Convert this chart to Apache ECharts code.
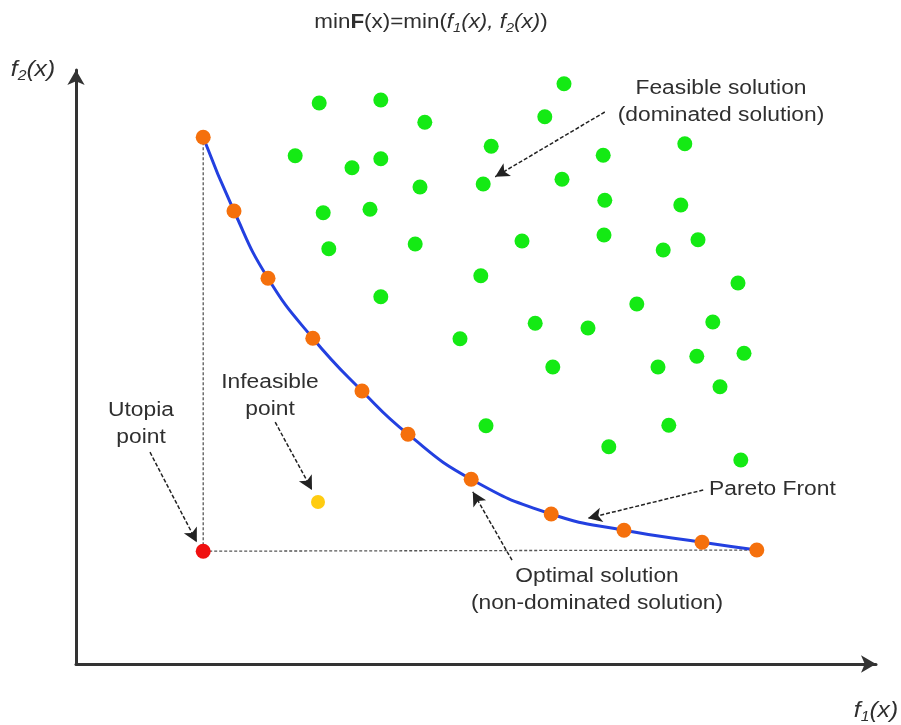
<!DOCTYPE html>
<html>
<head>
<meta charset="utf-8">
<script src="https://cdn.jsdelivr.net/npm/echarts@6/dist/echarts.min.js"></script>
<style>html,body{margin:0;padding:0;background:#fff}#c{width:901px;height:725px}</style>
</head>
<body>
<div id="c"></div>
<script>
// Pareto front (optimal, non-dominated solutions): f1, f2
const paretoF1 = [15.9, 19.75, 24.0, 29.6, 35.75, 41.5, 49.4, 59.4, 68.5, 78.25, 85.1];
const paretoF2 = [87.8, 75.5, 64.3, 54.3, 45.5, 38.3, 30.8, 25.0, 22.3, 20.3, 19.0];
// Feasible (dominated) solutions
const feasibleF1 = [30.4, 38.1, 43.6, 27.4, 34.5, 38.1, 51.9, 58.6, 61.0, 65.9, 76.1, 43.0, 50.9, 60.75, 30.9, 36.75, 66.1, 75.6, 31.6, 42.4, 55.75, 66.0, 73.4, 77.75, 38.1, 50.6, 82.75, 70.1, 57.4, 64.0, 79.6, 48.0, 59.6, 72.75, 77.6, 83.5, 80.5, 51.25, 66.6, 74.1, 83.1];
const feasibleF2 = [93.5, 94.0, 90.3, 84.7, 82.7, 84.2, 86.3, 91.2, 96.7, 84.8, 86.7, 79.5, 80.0, 80.8, 75.2, 75.8, 77.3, 76.5, 69.2, 70.0, 70.5, 71.5, 69.0, 70.7, 61.2, 64.7, 63.5, 60.0, 56.8, 56.0, 57.0, 54.2, 49.5, 49.5, 51.3, 51.8, 46.2, 39.7, 36.2, 39.8, 34.0];
// Special points
const utopiaPoint = [15.9, 18.8];
const infeasiblePoint = [30.25, 27.0];
// Annotation arrows: [fromF1, fromF2, toF1, toF2]
const arrowFeasible = [66.1, 92.0, 52.4, 81.2];
const arrowUtopia = [9.25, 35.3, 15.1, 20.3];
const arrowInfeasible = [24.9, 40.3, 29.5, 29.0];
const arrowOptimal = [54.5, 17.3, 49.6, 28.7];
const arrowPareto = [78.4, 29.0, 64.0, 24.3];
// Texts
const titleText = '{n|min}{b|F}{n|(x)=min(}{i|f}{s|1}{i|(x), f}{s|2}{i|(x)}{n|)}';
const yName = '{i|f}{s|2}{i|(x)}';
const xName = '{i|f}{s|1}{i|(x)}';
const labelFeasible = 'Feasible solution\n(dominated solution)';
const labelUtopia = 'Utopia\npoint';
const labelInfeasible = 'Infeasible\npoint';
const labelOptimal = 'Optimal solution\n(non-dominated solution)';
const labelPareto = 'Pareto Front';

const FONT = '"Liberation Sans", Arial, sans-serif';
const TXT = '#2f2f2f';
function rich(size, sub) {
  return {
    n: {fontFamily: FONT, fontSize: size, lineHeight: size + 5, fill: TXT, color: TXT},
    b: {fontFamily: FONT, fontSize: size, fontWeight: 'bold', lineHeight: size + 5, fill: TXT, color: TXT},
    i: {fontFamily: FONT, fontSize: size, fontStyle: 'italic', lineHeight: size + 5, fill: TXT, color: TXT},
    s: {fontFamily: FONT, fontSize: sub, fontStyle: 'italic', lineHeight: sub, verticalAlign: 'bottom', fill: TXT, color: TXT}
  };
}

const chart = echarts.init(document.getElementById('c'), null, {renderer: 'canvas'});

function arrowLine(a) {
  return [{coord: [a[0], a[1]]}, {coord: [a[2], a[3]]}];
}
const feasibleData = feasibleF1.map((v, i) => [v, feasibleF2[i]]);
const paretoData = paretoF1.map((v, i) => [v, paretoF2[i]]);
const guideData = [
  [paretoF1[0], paretoF2[0]],
  [utopiaPoint[0], utopiaPoint[1]],
  [paretoF1[paretoF1.length - 1], paretoF2[paretoF2.length - 1]]
];

function txt(x, y, text, align) {
  return {
    type: 'text', x: x, y: y, scaleX: 1.14, z: 100,
    style: {
      text: text, fill: TXT,
      font: '20px ' + FONT,
      align: align || 'center', verticalAlign: 'middle',
      textAlign: align || 'center', textVerticalAlign: 'middle',
      lineHeight: 27
    }
  };
}
function richTxt(x, y, text, size, sub, align) {
  return {
    type: 'text', x: x, y: y, scaleX: 1.12, z: 100,
    style: {
      text: text, rich: rich(size, sub), fill: TXT,
      font: size + 'px ' + FONT,
      align: align || 'center', verticalAlign: 'middle',
      textAlign: align || 'center', textVerticalAlign: 'middle'
    }
  };
}

const option = {
  backgroundColor: '#ffffff',
  animation: false,
  grid: {left: 76, right: 25, top: 70, bottom: 61},
  xAxis: {
    type: 'value', min: 0, max: 100,
    axisLine: {show: true, onZero: false, symbol: ['none', 'arrow'], symbolSize: [13, 15], lineStyle: {color: '#333', width: 3}},
    axisTick: {show: false}, axisLabel: {show: false}, splitLine: {show: false}
  },
  yAxis: {
    type: 'value', min: 0, max: 99,
    axisLine: {show: true, onZero: false, symbol: ['none', 'arrow'], symbolSize: [13, 15], lineStyle: {color: '#333', width: 3}},
    axisTick: {show: false}, axisLabel: {show: false}, splitLine: {show: false}
  },
  graphic: [
    richTxt(431, 22, titleText, 20, 13),
    richTxt(33, 70, yName, 22, 14),
    richTxt(876, 711, xName, 22, 14),
    txt(721, 102, labelFeasible),
    txt(141, 424, labelUtopia),
    txt(270, 396, labelInfeasible),
    txt(597, 590, labelOptimal),
    txt(709, 489, labelPareto, 'left')
  ],
  series: [
    {
      type: 'line', data: guideData, symbol: 'none', silent: true, z: 1,
      lineStyle: {color: '#555', width: 1.3, type: [3, 2]}
    },
    {
      type: 'scatter', data: feasibleData, symbolSize: 15, z: 3,
      itemStyle: {color: '#14ea14', opacity: 1},
      markLine: {
        silent: true, symbol: ['none', 'arrow'], symbolSize: [11, 14],
        label: {show: false},
        lineStyle: {color: '#222', width: 1.5, type: [4, 2]},
        emphasis: {disabled: true},
        data: [arrowLine(arrowFeasible), arrowLine(arrowUtopia), arrowLine(arrowInfeasible), arrowLine(arrowOptimal), arrowLine(arrowPareto)]
      }
    },
    {
      type: 'line', data: paretoData, smooth: 0.5, symbol: 'circle', symbolSize: 15, z: 4,
      lineStyle: {color: '#2340e0', width: 3},
      itemStyle: {color: '#f5700c', opacity: 1}
    },
    {
      type: 'scatter', data: [utopiaPoint], symbolSize: 15, z: 5,
      itemStyle: {color: '#f01010', opacity: 1}
    },
    {
      type: 'scatter', data: [infeasiblePoint], symbolSize: 14, z: 5,
      itemStyle: {color: '#ffcc11', opacity: 1}
    }
  ]
};
chart.setOption(option);
</script>
</body>
</html>
